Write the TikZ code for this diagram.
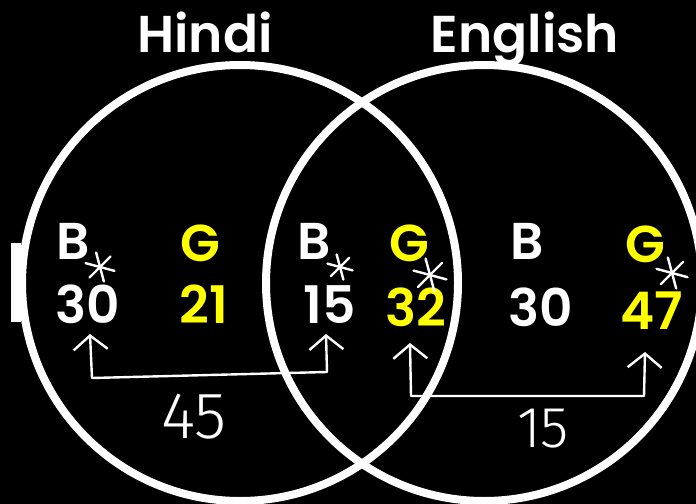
\documentclass[tikz,border=0pt]{standalone}
\usepackage{fontspec}
\setmainfont{Poppins}[BoldFont={Poppins SemiBold}]
\newfontfamily\handfont{Fira Sans Light}
\usetikzlibrary{positioning,arrows.meta}
\definecolor{chalk} {HTML}{FFFFFF}
\definecolor{board} {HTML}{000000}
\definecolor{girls} {HTML}{FFFF00}
\tikzset{
  % --- nodes
  title/.style  = {font=\bfseries\fontsize{52}{52}\selectfont, text=chalk,
                   anchor=base, inner sep=0pt},
  boy/.style    = {title},
  girl/.style   = {title, text=girls},
  handnum/.style= {font=\handfont\fontsize{66}{66}\selectfont, text=chalk,
                   anchor=base, inner sep=0pt},
  % --- lines
  ring/.style   = {draw=chalk, line width=8bp},
  hand/.style   = {draw=chalk, line width=2.4bp, line cap=round, line join=round},
  barb/.style   = {hand, {Straight Barb[length=14bp,width=34bp]}-{Straight Barb[length=14bp,width=34bp]}},
}
\begin{document}
\begin{tikzpicture}[x=1bp,y=-1bp]
  \fill[board] (0,0) rectangle (696,504);
  \useasboundingbox (0,0) rectangle (696,504);

  % sets
  \draw[ring] (240,283) circle[radius=218];
  \draw[ring] (484,283) circle[radius=218];
  \fill[chalk] (11,243) rectangle (21,322);

  \node[title] (hindi)   at (205,53) {Hindi};
  \node[title] (english) at (525,53) {English};

  % boys and girls
  \node[boy]  (hB)  at (73,260)  {B};
  \node[girl] (hG)  at (200,262) {G};
  \node[boy]  (bB)  at (314,260) {B};
  \node[girl] (bG)  at (409,262) {G};
  \node[boy]  (eB)  at (527,260) {B};
  \node[girl] (eG)  at (645,263) {G};

  \node[boy]  (hBn) at (88,323)  {30};
  \node[girl] (hGn) at (204,323) {21};
  \node[boy]  (bBn) at (330,323) {15};
  \node[girl] (bGn) at (416,326) {32};
  \node[boy]  (eBn) at (541,326) {30};
  \node[girl] (eGn) at (652,329) {47};

  % marks
  \coordinate (s1) at (100,267);
  \coordinate (s2) at (340,267);
  \coordinate (s3) at (430,275);
  \coordinate (s4) at (672,273);
  \foreach \s/\r in {s1/15,s2/13,s3/17,s4/16}
    \foreach \a in {0,60,120}
      \draw[hand, shift={(\s)}] (\a+15:\r) -- (\a+195:\r);

  % brackets
  \coordinate (t1) at (90,334);
  \coordinate (k1) at (92,378);
  \coordinate (k2) at (327,372);
  \coordinate (t2) at (326,334);
  \draw[barb] (t1) -- (k1) -- (k2) -- (t2);
  \node[handnum] (sumB) at (194,438) {45};

  \coordinate (t3) at (410,343);
  \coordinate (k3) at (411,396);
  \coordinate (k4) at (644,396);
  \coordinate (t4) at (645,352);
  \draw[barb] (t3) -- (k3) -- (k4) -- (t4);
  \node[handnum, font=\handfont\fontsize{58}{58}\selectfont] (sumG) at (543,447) {15};
\end{tikzpicture}
\end{document}
